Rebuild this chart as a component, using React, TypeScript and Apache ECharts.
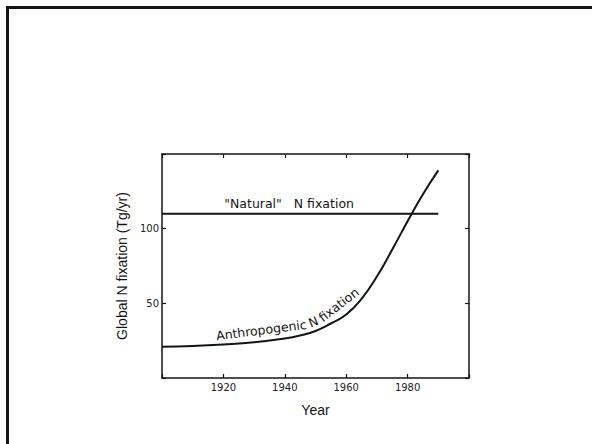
import React, { useEffect, useRef } from "react";
import * as echarts from "echarts";

const anthroYears = [1900, 1910, 1920, 1930, 1940, 1945, 1950, 1955, 1960, 1965, 1970, 1975, 1980, 1985, 1990];
const anthroValues = [21, 21.5, 22.5, 24, 26.5, 28.5, 31.5, 36.5, 42.5, 53, 68, 86, 105, 123, 139];
const naturalYears = [1900, 1990];
const naturalValues = [110, 110];
const xTickLabels = [1920, 1940, 1960, 1980];
const yTickLabels = [50, 100];
const naturalLabel = '"Natural"   N fixation';
const anthroWords = ["Anthropogenic", "N", "fixation"];
const yAxisName = "Global N fixation (Tg/yr)";
const xAxisName = "Year";

const INK = "#141414";
const TICK_FONT = "DejaVu Sans";
const LABEL_FONT = "Liberation Sans";

export default function App() {
  const ref = useRef<HTMLDivElement>(null);

  useEffect(() => {
    if (!ref.current) return;
    const chart = echarts.init(ref.current, undefined, { renderer: "svg" });

    const axisLine = { show: true, onZero: false, lineStyle: { color: INK, width: 1.5 } };
    const axisTick = { show: true, inside: true, length: 4, lineStyle: { color: INK, width: 1.2 } };
    const tickLabel = (list: number[], margin: number) => ({
      show: true,
      margin,
      fontSize: 10,
      fontFamily: TICK_FONT,
      color: "#222",
      formatter: (v: number) => (list.indexOf(v) >= 0 ? String(v) : ""),
    });

    chart.setOption({
      animation: false,
      backgroundColor: "#ffffff",
      grid: { left: 162, top: 154, width: 307, height: 224, containLabel: false },
      xAxis: [
        {
          type: "value",
          min: 1900,
          max: 2000,
          interval: 20,
          position: "bottom",
          axisLine,
          axisTick,
          axisLabel: tickLabel(xTickLabels, 4),
          splitLine: { show: false },
          name: xAxisName,
          nameLocation: "middle",
          nameGap: 25,
          nameTextStyle: { fontFamily: LABEL_FONT, fontSize: 14, color: INK },
        },
        {
          type: "value",
          min: 1900,
          max: 2000,
          interval: 20,
          position: "top",
          axisLine,
          axisTick,
          axisLabel: { show: false },
          splitLine: { show: false },
        },
      ],
      yAxis: [
        {
          type: "value",
          min: 0,
          max: 150,
          interval: 50,
          position: "left",
          axisLine,
          axisTick,
          axisLabel: tickLabel(yTickLabels, 3),
          splitLine: { show: false },
          name: yAxisName,
          nameLocation: "middle",
          nameRotate: 90,
          nameGap: 32,
          nameTextStyle: { fontFamily: LABEL_FONT, fontSize: 14, color: INK },
        },
        {
          type: "value",
          min: 0,
          max: 150,
          interval: 50,
          position: "right",
          axisLine,
          axisTick,
          axisLabel: { show: false },
          splitLine: { show: false },
        },
      ],
      series: [
        {
          name: "Natural N fixation",
          type: "line",
          xAxisIndex: 0,
          yAxisIndex: 0,
          showSymbol: false,
          symbol: "none",
          lineStyle: { color: INK, width: 2 },
          data: naturalYears.map((y, i) => [y, naturalValues[i]]),
        },
        {
          name: "Anthropogenic N fixation",
          type: "line",
          xAxisIndex: 0,
          yAxisIndex: 0,
          showSymbol: false,
          symbol: "none",
          smooth: 0.5,
          lineStyle: { color: INK, width: 2 },
          data: anthroYears.map((y, i) => [y, anthroValues[i]]),
        },
      ],
    });

    // ---- labels placed through the chart's own scales ----
    const toPx = (x: number, y: number) => chart.convertToPixel({ seriesIndex: 1 }, [x, y]) as number[];

    const canvas = document.createElement("canvas");
    const ctx = canvas.getContext("2d")!;
    const wordFont = `12.5px '${TICK_FONT}'`;
    ctx.font = wordFont;
    const spaceW = ctx.measureText(" ").width;

    const pts = anthroYears.map((y, i) => toPx(y, anthroValues[i]));
    const cum: number[] = [0];
    for (let i = 1; i < pts.length; i++) {
      cum.push(cum[i - 1] + Math.hypot(pts[i][0] - pts[i - 1][0], pts[i][1] - pts[i - 1][1]));
    }
    const pointAt = (s: number) => {
      let i = 0;
      while (i < pts.length - 2 && cum[i + 1] < s) i++;
      const seg = cum[i + 1] - cum[i];
      const f = seg > 0 ? (s - cum[i]) / seg : 0;
      return [pts[i][0] + f * (pts[i + 1][0] - pts[i][0]), pts[i][1] + f * (pts[i + 1][1] - pts[i][1])];
    };
    const startX = toPx(1918.0, 0)[0];
    let s0 = 0;
    for (let i = 0; i < pts.length - 1; i++) {
      if (pts[i][0] <= startX && pts[i + 1][0] >= startX) {
        const f = (startX - pts[i][0]) / (pts[i + 1][0] - pts[i][0]);
        s0 = cum[i] + f * (cum[i + 1] - cum[i]);
        break;
      }
    }

    const graphics: any[] = [
      {
        type: "rect",
        shape: { x: 7.5, y: 7.5, width: 700, height: 600 },
        style: { fill: "none", stroke: INK, lineWidth: 3 },
        silent: true,
      },
    ];

    let cur = s0;
    anthroWords.forEach((w) => {
      const width = ctx.measureText(w).width;
      const a = pointAt(cur);
      const b = pointAt(cur + width);
      let tx = b[0] - a[0];
      let ty = b[1] - a[1];
      const len = Math.hypot(tx, ty) || 1;
      tx /= len;
      ty /= len;
      const nx = ty;
      const ny = -tx;
      const off = 2.5;
      const mx = (a[0] + b[0]) / 2;
      const my = (a[1] + b[1]) / 2;
      graphics.push({
        type: "text",
        x: mx + nx * off,
        y: my + ny * off,
        rotation: -Math.atan2(ty, tx),
        silent: true,
        style: {
          text: w,
          font: wordFont,
          fill: INK,
          textAlign: "center",
          textVerticalAlign: "bottom",
        },
      });
      cur += width + spaceW * 1.3;
    });

    const np = toPx(1941.4, naturalValues[0]);
    graphics.push({
      type: "text",
      x: np[0],
      y: np[1] - 4,
      silent: true,
      style: {
        text: naturalLabel,
        font: `12.5px '${TICK_FONT}'`,
        fill: INK,
        textAlign: "center",
        textVerticalAlign: "bottom",
      },
    });

    chart.setOption({ graphic: graphics });

    return () => chart.dispose();
  }, []);

  return (
    <div
      ref={ref}
      style={{ position: "absolute", left: 0, top: 0, width: 592, height: 444, background: "#fff" }}
    />
  );
}
